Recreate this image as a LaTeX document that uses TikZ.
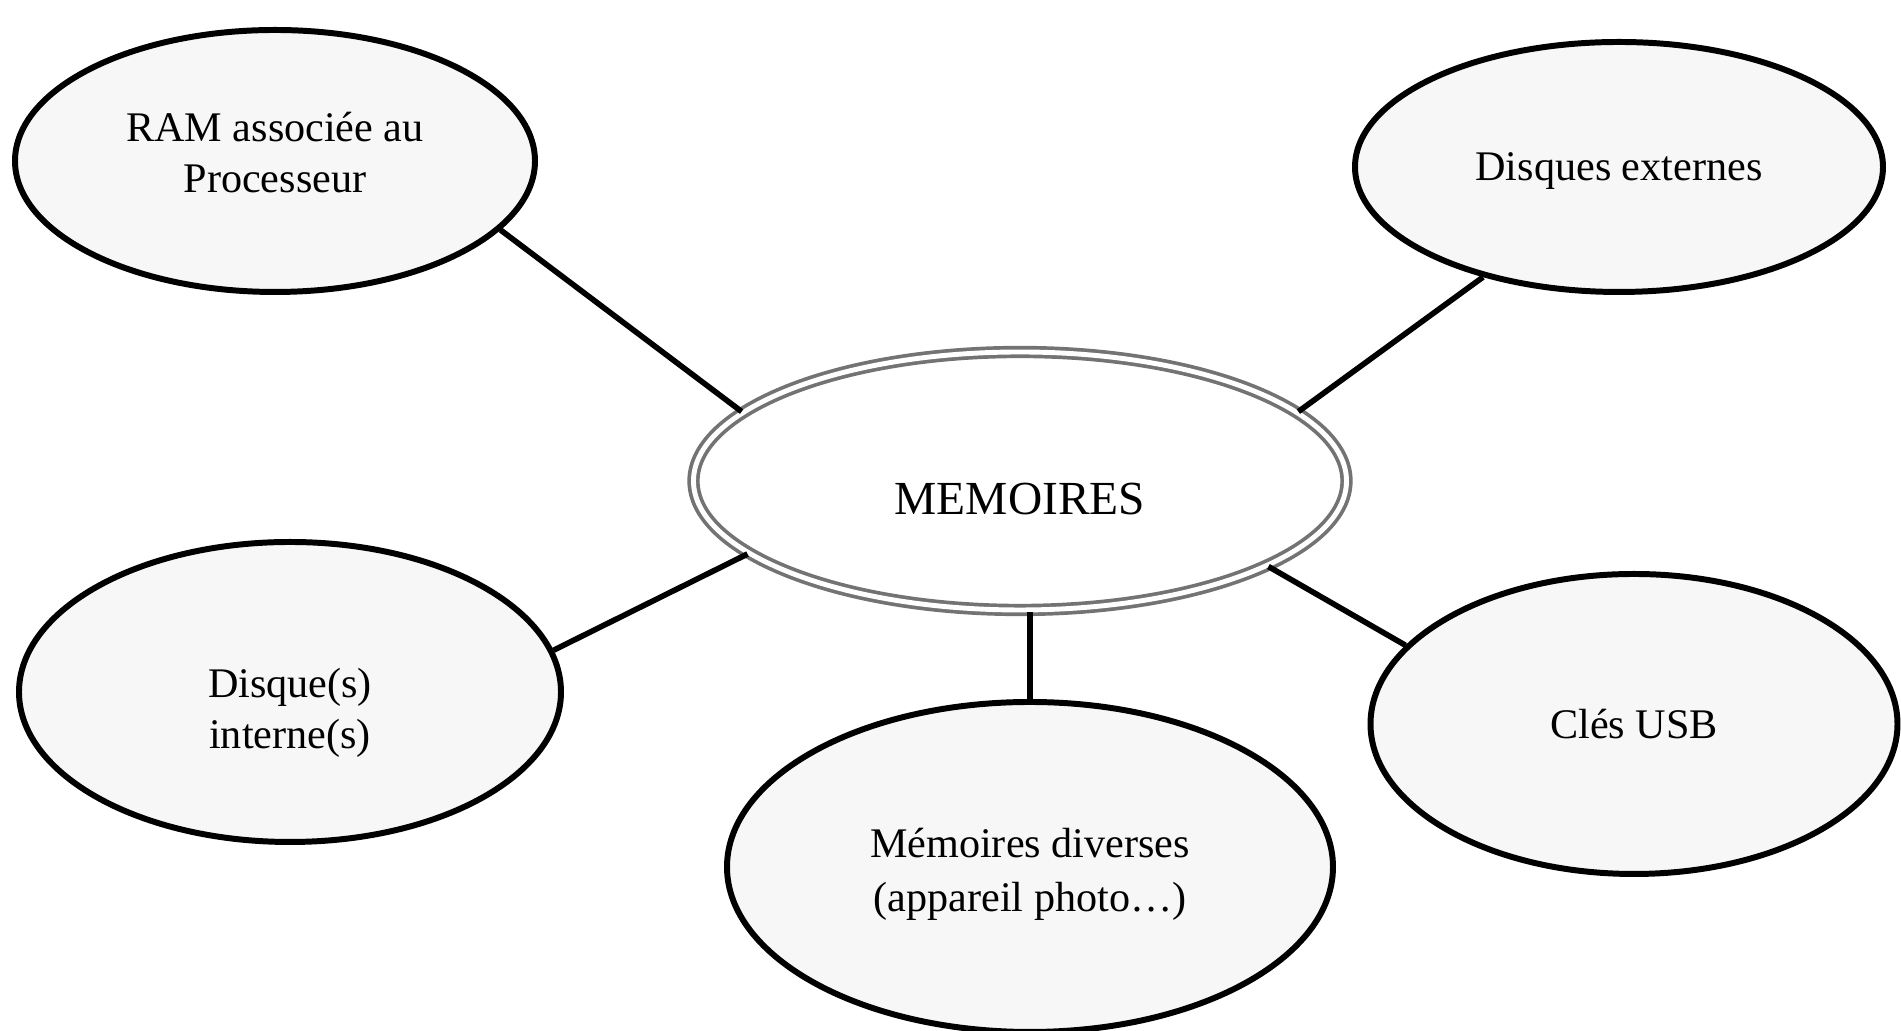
\documentclass[tikz,border=0pt]{standalone}
\usepackage{fontspec}
\setmainfont{Liberation Serif}
\usetikzlibrary{shapes.geometric}

\begin{document}
\begin{tikzpicture}[
        font=\fontsize{12}{14.5}\selectfont,
        leaf/.style={draw, ellipse, line width=1.7pt, fill=black!3, inner sep=0pt, align=center},
        hub/.style={ellipse, draw=black!55, double=white, double distance=1.4pt, line width=1.05pt, fill=white, inner sep=0pt, minimum width=6.53cm, minimum height=2.58cm, font=\fontsize{13.5}{16}\selectfont},
        link/.style={line width=1.6pt, draw=black}
    ]
    \useasboundingbox (0,0) rectangle (19.01,10.31);

    % Centre
    \node[hub, text height=0.68cm] (mem) at (10.20,5.50) {MEMOIRES};

    % Branches
    \node[leaf, minimum width=5.20cm, minimum height=2.62cm] (ram) at (2.75,8.70) {RAM associée au\\Processeur\rule[-0.17cm]{0pt}{0pt}};
    \node[leaf, minimum width=5.28cm, minimum height=2.50cm] (ext) at (16.19,8.64) {\rule{0pt}{0.36cm}Disques externes};
    \node[leaf, minimum width=5.42cm, minimum height=3.00cm] (int) at (2.90,3.39) {\rule{0pt}{0.71cm}Disque(s)\\interne(s)};
    \node[leaf, minimum width=6.06cm, minimum height=3.30cm] (div) at (10.30,1.64) {\rule{0pt}{0.44cm}Mémoires diverses\\[1pt](appareil photo\ldots)};
    \node[leaf, minimum width=5.27cm, minimum height=3.00cm] (usb) at (16.34,3.07) {Clés USB};

    % Lines
    \draw[link] (ram.-17) -- (mem.166);
    \draw[link] (ext.219) -- (mem.14);
    \draw[link] (int.9) -- (mem.195);
    \draw[link] (div.north) -- (div.north |- mem.south);
    \draw[link] (usb.161) -- (mem.-19);

\end{tikzpicture}
\end{document}
